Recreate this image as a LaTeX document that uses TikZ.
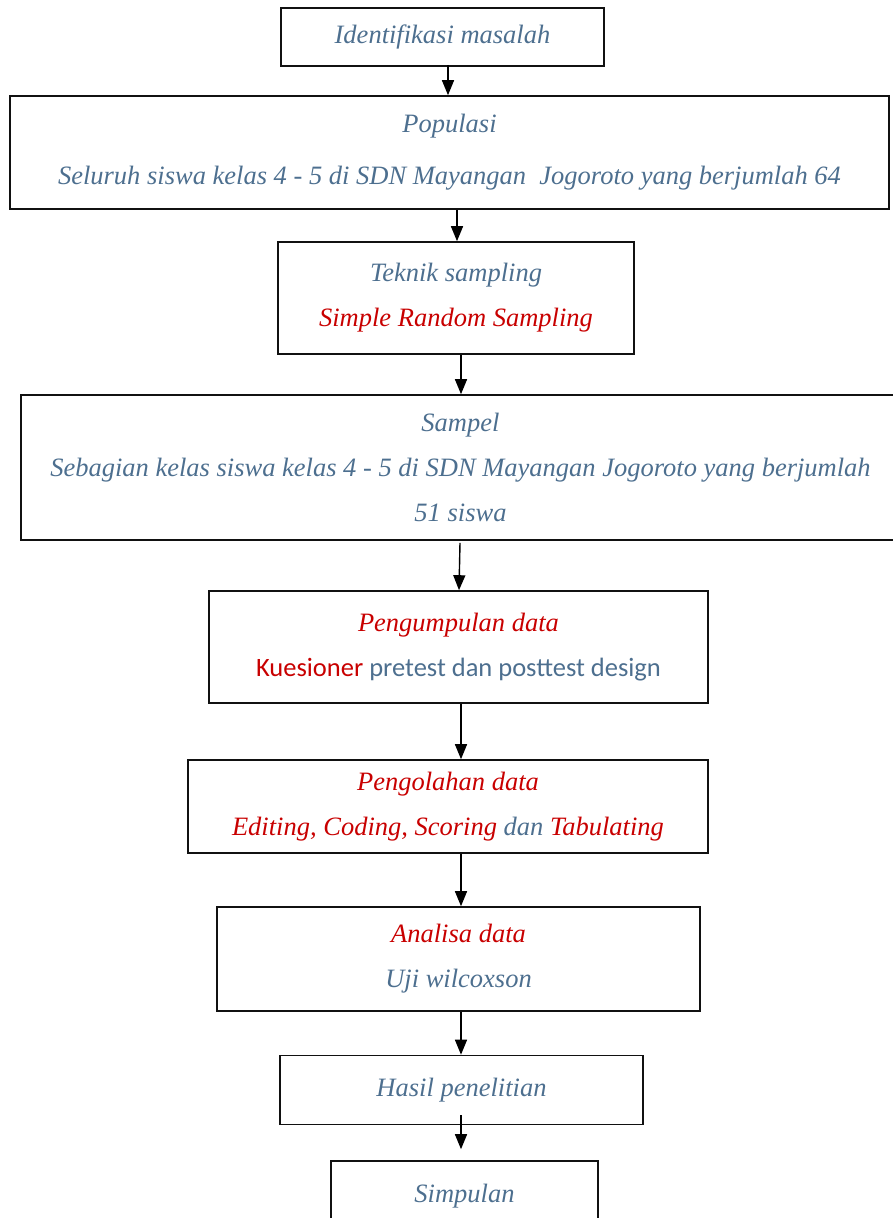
\documentclass[tikz,border=0pt]{standalone}
\usepackage{fontspec}
\setmainfont{Liberation Serif}
\newfontfamily\calibri{Carlito}
\usepackage{xcolor}
\usetikzlibrary{arrows.meta,positioning}
\definecolor{txtblue}{HTML}{4D6F8F}
\definecolor{txtred}{HTML}{C80000}
\definecolor{boxline}{HTML}{111111}

\begin{document}
\begin{tikzpicture}[
  x=1pt, y=-1pt,
  every node/.style={font=\fontsize{26.5}{45}\selectfont\itshape, text=txtblue},
  box/.style={rectangle, draw=boxline, line width=1.6pt, align=center, inner sep=0pt},
  arr/.style={-{Triangle[length=15pt,width=12pt]}, line width=1.4pt, draw=black},
]
\clip (0,0) rectangle (893,1218);
\node[box, minimum width=323pt, minimum height=58pt] (ident) at (442.5,37) {Identifikasi masalah};
\node[box, minimum width=879pt, minimum height=113pt] (popul) at (449.5,152.5)
  {Populasi\\[7pt] Seluruh siswa kelas 4 - 5 di SDN Mayangan~ Jogoroto yang berjumlah 64};
\node[box, minimum width=356pt, minimum height=112pt] (teknik) at (456,298)
  {Teknik sampling\\ \textcolor{txtred}{Simple Random Sampling}};
\node[box, minimum width=879pt, minimum height=145pt] (sampel) at (460.5,467.5)
  {Sampel\\ Sebagian kelas siswa kelas 4 - 5 di SDN Mayangan Jogoroto yang berjumlah\\ 51 siswa};
\node[box, minimum width=499pt, minimum height=112pt] (kumpul) at (458.5,647)
  {\textcolor{txtred}{Pengumpulan data}\\
   {\calibri\upshape\textcolor{txtred}{Kuesioner} pretest dan posttest design}};
\node[box, minimum width=520pt, minimum height=93pt] (olah) at (448,806.5)
  {\textcolor{txtred}{Pengolahan data}\\
   \textcolor{txtred}{Editing, Coding, Scoring} dan \textcolor{txtred}{Tabulating}};
\node[box, minimum width=483pt, minimum height=104pt] (analisa) at (458.5,959)
  {\textcolor{txtred}{Analisa data}\\ Uji wilcoxson};
\node[box, minimum width=363pt, minimum height=69pt] (hasil) at (461.5,1090) {Hasil penelitian};
\node[box, minimum width=267pt, minimum height=71pt] (simpul) at (464.5,1196.5) {Simpulan};

\draw[arr] ([xshift=5.5pt,yshift=2pt]ident.south) -- ([xshift=5.5pt]ident.south |- popul.north);
\draw[arr] ([xshift=7.5pt]popul.south) -- ([xshift=7.5pt]popul.south |- teknik.north);
\draw[arr] ([xshift=5pt]teknik.south) -- ([xshift=5pt]teknik.south |- sampel.north);
\draw[arr] ([xshift=-0.5pt,yshift=-2pt]sampel.south) -- ([xshift=0.5pt]kumpul.north);
\draw[arr] ([xshift=2.5pt]kumpul.south) -- ([xshift=2.5pt]kumpul.south |- olah.north);
\draw[arr] ([xshift=13pt]olah.south) -- ([xshift=13pt]olah.south |- analisa.north);
\draw[arr] ([xshift=2.5pt]analisa.south) -- ([xshift=2.5pt]analisa.south |- hasil.north);
\draw[arr] ([xshift=-0.5pt,yshift=10pt]hasil.south) -- ([xshift=-3.5pt,yshift=11pt]simpul.north);
\end{tikzpicture}
\end{document}
